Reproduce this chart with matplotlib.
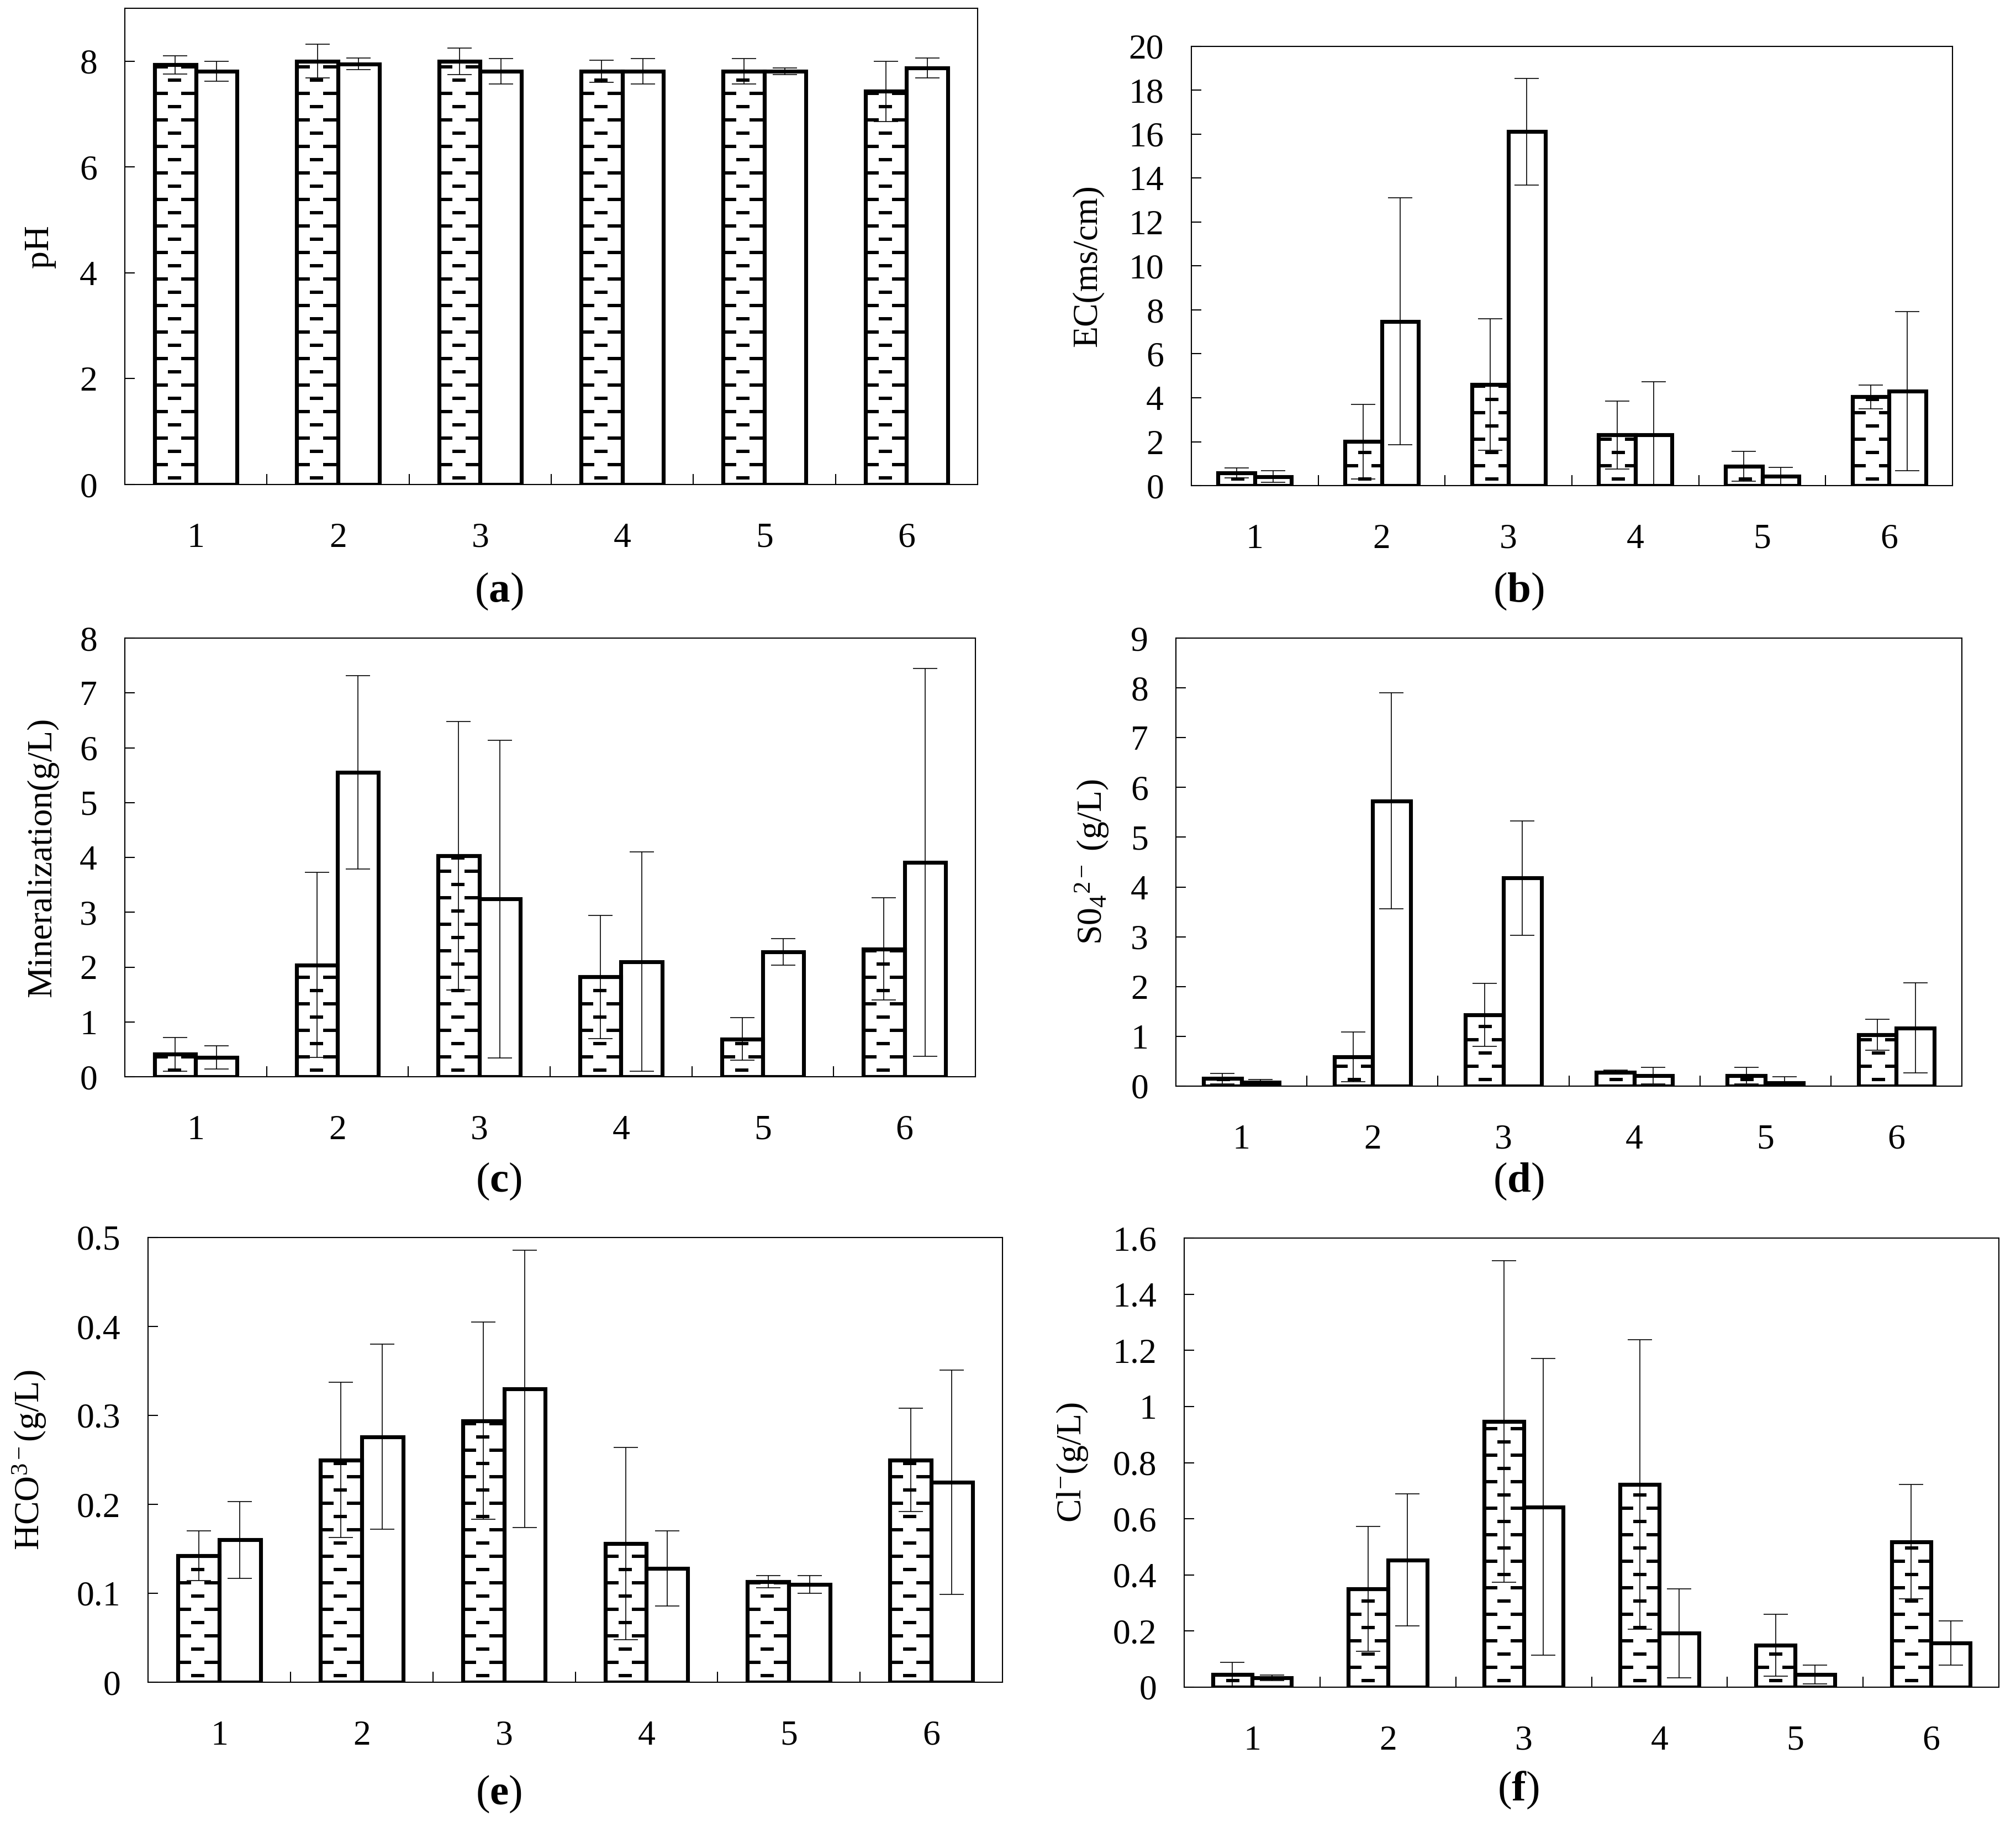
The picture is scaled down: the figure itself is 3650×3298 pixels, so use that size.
import matplotlib
matplotlib.use('Agg')
import matplotlib.pyplot as plt
import numpy as np
from matplotlib.ticker import FormatStrFormatter, FixedLocator

plt.rcParams['font.family'] = ['Liberation Serif', 'DejaVu Serif']
plt.rcParams['mathtext.fontset'] = 'custom'
plt.rcParams['mathtext.rm'] = 'Liberation Serif'
plt.rcParams['mathtext.it'] = 'Liberation Serif:italic'
plt.rcParams['mathtext.bf'] = 'Liberation Serif:bold'
plt.rcParams['lines.scale_dashes'] = False

sites = ['1', '2', '3', '4', '5', '6']

# pH
ph_a = [7.93, 8.00, 8.00, 7.81, 7.81, 7.43]
ph_a_err = [0.17, 0.32, 0.25, 0.21, 0.24, 0.57]
ph_b = [7.81, 7.95, 7.81, 7.81, 7.81, 7.87]
ph_b_err = [0.19, 0.11, 0.24, 0.24, 0.06, 0.19]

# EC (ms/cm)
ec_a = [0.58, 2.01, 4.61, 2.31, 0.88, 4.04]
ec_a_err = [0.23, 1.70, 3.00, 1.55, 0.69, 0.55]
ec_b = [0.41, 7.48, 16.12, 2.31, 0.42, 4.31]
ec_b_err = [0.26, 5.62, 2.43, 2.42, 0.41, 3.62]

# mineralization (g/L)
min_a = [0.41, 2.04, 4.03, 1.82, 0.69, 2.33]
min_a_err = [0.31, 1.69, 2.45, 1.12, 0.39, 0.93]
min_b = [0.35, 5.55, 3.24, 2.10, 2.28, 3.91]
min_b_err = [0.21, 1.76, 2.90, 2.00, 0.24, 3.54]

# SO4 (g/L)
so4_a = [0.15, 0.59, 1.43, 0.28, 0.21, 1.03]
so4_a_err = [0.11, 0.50, 0.63, 0.04, 0.17, 0.31]
so4_b = [0.08, 5.73, 4.18, 0.21, 0.07, 1.17]
so4_b_err = [0.05, 2.17, 1.15, 0.17, 0.12, 0.90]

# HCO3 (g/L)
hco3_a = [0.142, 0.250, 0.294, 0.156, 0.113, 0.250]
hco3_a_err = [0.028, 0.087, 0.111, 0.108, 0.007, 0.058]
hco3_b = [0.160, 0.276, 0.330, 0.128, 0.110, 0.225]
hco3_b_err = [0.043, 0.104, 0.156, 0.042, 0.010, 0.126]

# Cl (g/L)
cl_a = [0.045, 0.350, 0.947, 0.722, 0.149, 0.518]
cl_a_err = [0.043, 0.223, 0.573, 0.516, 0.110, 0.204]
cl_b = [0.034, 0.453, 0.642, 0.192, 0.045, 0.158]
cl_b_err = [0.010, 0.235, 0.528, 0.158, 0.034, 0.079]

W, H, DPI = 3650, 3298, 300
fig = plt.figure(figsize=(W / DPI, H / DPI), dpi=DPI)

# panel boxes in pixels: left, right, top, bottom
boxes = {
    'a': (226, 1770, 15, 877),
    'b': (2157, 3535, 84, 879),
    'c': (226, 1766, 1155, 1949),
    'd': (2129, 3552, 1155, 1966),
    'e': (268, 1815, 2240, 3045),
    'f': (2144, 3619, 2241, 3054),
}

panels = [
    ('a', ph_a, ph_a_err, ph_b, ph_b_err, 9, 2, 'pH', -0.100),
    ('b', ec_a, ec_a_err, ec_b, ec_b_err, 20, 2, 'EC(ms/cm)', -0.136),
    ('c', min_a, min_a_err, min_b, min_b_err, 8, 1, 'Mineralization(g/L)', -0.097),
    ('d', so4_a, so4_a_err, so4_b, so4_b_err, 9, 1, r'S0$_{4}{}^{2-}$ (g/L)', -0.107),
    ('e', hco3_a, hco3_a_err, hco3_b, hco3_b_err, 0.5, 0.1, r'HCO$^{3-}$(g/L)', -0.139),
    ('f', cl_a, cl_a_err, cl_b, cl_b_err, 1.6, 0.2, r'Cl$^{-}$(g/L)', -0.137),
]

label_pos = {'a': (903, 1070), 'b': (2749, 1070), 'c': (903, 2138),
             'd': (2749, 2138), 'e': (903, 3247), 'f': (2749, 3240)}

bw = 0.29
edge_lw = 1.7
px2pt = 72.0 / DPI


def dash_fill(ax, rect, ymax, ax_h_px):
    # Excel-style dashed horizontal pattern, clipped to the bar
    x0 = rect.get_x()
    w = rect.get_width()
    h = rect.get_height()
    dy = 24.0 * ymax / ax_h_px
    dash = 24.0 * px2pt
    y = 12.0 * ymax / ax_h_px
    k = 0
    while y < h:
        off = 0.0 if k % 2 == 1 else dash
        ln, = ax.plot([x0, x0 + w], [y, y], color='black', lw=6 * px2pt,
                      linestyle=(off, (dash, dash)),
                      solid_capstyle='butt', dash_capstyle='butt', zorder=2.5)
        ln.set_clip_path(rect)
        y += dy
        k += 1


for key, va, vae, vb, vbe, ymax, step, ylab, lx in panels:
    l, r, t, b = boxes[key]
    ax = fig.add_axes([l / W, 1 - b / H, (r - l) / W, (b - t) / H])
    x = np.arange(1, len(sites) + 1)
    bars_a = ax.bar(x - bw / 2, va, bw, color='white', edgecolor='black',
                    linewidth=edge_lw, zorder=2)
    ax.bar(x + bw / 2, vb, bw, color='white', edgecolor='black',
           linewidth=edge_lw, zorder=2)
    ax.errorbar(x - bw / 2, va, yerr=vae, fmt='none', ecolor='black',
                elinewidth=0.4, capsize=5.2, capthick=0.4, zorder=4)
    ax.errorbar(x + bw / 2, vb, yerr=vbe, fmt='none', ecolor='black',
                elinewidth=0.4, capsize=5.2, capthick=0.4, zorder=4)
    ax.set_xlim(0.5, 6.5)
    ax.set_ylim(0, ymax)
    for rect in bars_a.patches:
        dash_fill(ax, rect, ymax, b - t)
    # redraw outlines on top of the pattern
    ax.bar(x - bw / 2, va, bw, color='none', edgecolor='black',
           linewidth=edge_lw, zorder=3)

    ax.set_yticks(np.arange(0, ymax + step / 2, step))
    ax.yaxis.set_major_formatter(FormatStrFormatter('%g'))
    ax.set_xticks(x)
    ax.set_xticklabels(sites)
    ax.xaxis.set_minor_locator(FixedLocator(np.arange(1.5, 6, 1)))
    ax.tick_params(axis='x', which='major', length=0, pad=16.5, labelsize=15.3)
    ax.tick_params(axis='x', which='minor', direction='in', length=4.6,
                   width=0.5, bottom=True)
    ax.tick_params(axis='y', direction='in', length=4.4, width=0.5,
                   pad=12, labelsize=15.3)
    for s in ax.spines.values():
        s.set_linewidth(0.5)
    ax.set_ylabel(ylab, fontsize=15.3, va='center')
    ax.yaxis.set_label_coords(lx, 0.5)

    px, py = label_pos[key]
    fig.text(px / W, 1 - py / H, r'($\mathbf{' + key + '}$)', fontsize=18.5,
             ha='center', va='center')

fig.savefig('out.png', dpi=DPI)
